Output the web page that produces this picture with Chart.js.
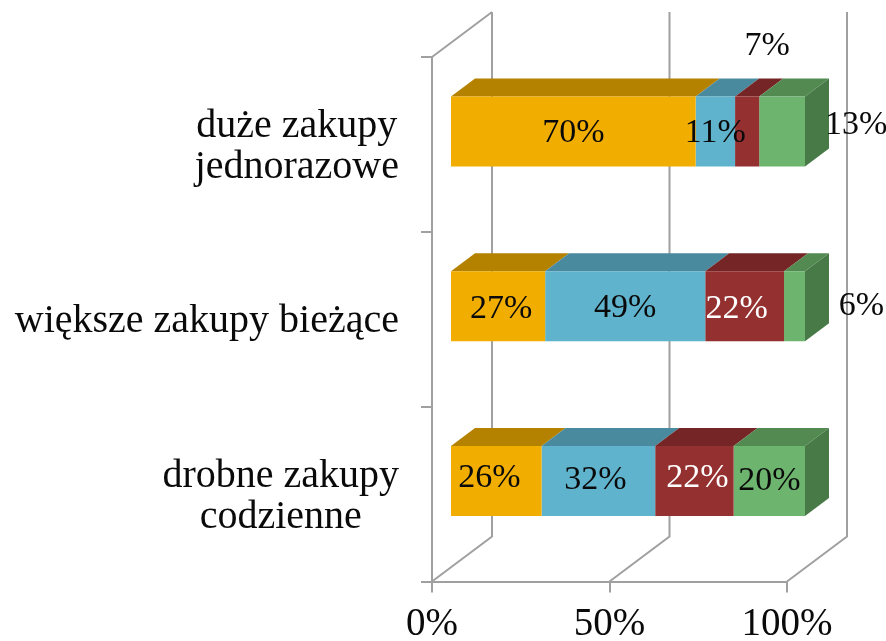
<!DOCTYPE html>
<html lang="pl">
<head>
<meta charset="utf-8">
<title>Zakupy</title>
<script src="https://cdn.jsdelivr.net/npm/chart.js@4"></script>
<style>
    html, body { margin: 0; background: #fff; }
    canvas { display: block; }
</style>
</head>
<body>
<canvas id="chart" width="886" height="641"></canvas>
<script>
const kategorie = [['duże zakupy', 'jednorazowe'], ['większe zakupy bieżące'], ['drobne zakupy', 'codzienne']];
const tickiX = [0, 50, 100];

// bar widths
const seria1 = [69.2, 26.8, 25.8];
const seria2 = [11.1, 45.1, 32.0];
const seria3 = [6.8, 22.2, 22.1];
const seria4 = [12.9, 5.9, 20.1];

// printed labels (they do not always agree with the bar widths)
const etykiety1 = ['70%', '27%', '26%'];
const etykiety2 = ['11%', '49%', '32%'];
const etykiety3 = ['7%', '22%', '22%'];
const etykiety4 = ['13%', '6%', '20%'];

const kolory = ['#F2AE00', '#5FB3CC', '#953030', '#6DB56E'];
const koloryGora = ['#B58200', '#4A8A9E', '#752525', '#528A52'];
const kolorBok = '#477A47';
const kolorOsi = '#A0A0A0';
const kolorTekstu = '#0a0a0a';
const czcionka = '"Liberation Serif", serif';
const rozmiarEtykiet = 34;
const rozmiarOsi = 39;
const rozmiarKategorii = 40;

// 3D look: shift of the bars off the front plane, bar depth, wall depth
const przesuniecie = { x: 18, y: -13 };
const glebokosc = { x: 24, y: -18 };
const sciana = { x: 60, y: -45 };

// label nudges, key "row:series"
const korekty = {
    '0:2': { x: 20, y: -85 },
    '0:3': { x: 74, y: -6 },
    '1:0': { x: 3, y: 3 },
    '1:2': { x: -8, y: 3 },
    '1:3': { x: 67, y: 0 },
    '2:0': { x: -7, y: -3 },
    '2:1': { x: -3, y: -1 },
    '2:2': { x: 3, y: -3 },
    '0:0': { x: 0, y: 2 },
    '0:1': { x: 0, y: 2 },
    '1:1': { x: 0, y: 2 }
};

function wielokat(ctx, pts, kolor) {
    ctx.fillStyle = kolor;
    ctx.beginPath();
    pts.forEach((p, i) => i ? ctx.lineTo(p[0], p[1]) : ctx.moveTo(p[0], p[1]));
    ctx.closePath();
    ctx.fill();
}

const wykres3d = {
    id: 'wykres3d',
    beforeDatasetsDraw(chart) {
        const { ctx, scales: { x }, chartArea: area } = chart;
        ctx.save();

        // back wall and floor lines
        ctx.strokeStyle = kolorOsi;
        ctx.lineWidth = 2;
        tickiX.forEach(t => {
            const px = x.getPixelForValue(t);
            ctx.beginPath();
            ctx.moveTo(px, area.bottom);
            ctx.lineTo(px + sciana.x, area.bottom + sciana.y);
            ctx.lineTo(px + sciana.x, area.top + sciana.y);
            ctx.stroke();
        });
        ctx.beginPath();
        ctx.moveTo(area.left, area.top);
        ctx.lineTo(area.left + sciana.x, area.top + sciana.y);
        ctx.stroke();

        // tops and the end side of the bars
        ctx.translate(przesuniecie.x, przesuniecie.y);
        chart.data.datasets.forEach((ds, s) => {
            chart.getDatasetMeta(s).data.forEach(bar => {
                const gora = bar.y - bar.height / 2;
                const dol = bar.y + bar.height / 2;
                wielokat(ctx, [
                    [bar.base, gora], [bar.x, gora],
                    [bar.x + glebokosc.x, gora + glebokosc.y], [bar.base + glebokosc.x, gora + glebokosc.y]
                ], koloryGora[s]);
                if (s === chart.data.datasets.length - 1) {
                    wielokat(ctx, [
                        [bar.x, gora], [bar.x + glebokosc.x, gora + glebokosc.y],
                        [bar.x + glebokosc.x, dol + glebokosc.y], [bar.x, dol]
                    ], kolorBok);
                }
            });
        });
        ctx.restore();

        // the library bars are drawn on the shifted plane
        ctx.save();
        ctx.translate(przesuniecie.x, przesuniecie.y);
    },
    afterDatasetsDraw(chart) {
        const { ctx, scales: { y } } = chart;
        ctx.restore();

        // value labels
        ctx.save();
        ctx.font = `${rozmiarEtykiet}px ${czcionka}`;
        ctx.textAlign = 'center';
        ctx.textBaseline = 'middle';
        chart.data.datasets.forEach((ds, s) => {
            chart.getDatasetMeta(s).data.forEach((bar, i) => {
                const k = korekty[`${i}:${s}`] || { x: 0, y: 0 };
                ctx.fillStyle = ds.kolorEtykiety[i];
                ctx.fillText(ds.etykiety[i], (bar.base + bar.x) / 2 + przesuniecie.x + k.x, bar.y + przesuniecie.y + k.y);
            });
        });

        // category labels: lines centred inside a right aligned block
        ctx.font = `${rozmiarKategorii}px ${czcionka}`;
        ctx.textBaseline = 'alphabetic';
        ctx.fillStyle = kolorTekstu;
        kategorie.forEach((linie, i) => {
            const szer = Math.max(...linie.map(l => ctx.measureText(l).width));
            const srodek = 399 - szer / 2;
            const yTick = y.getPixelForValue(i);
            linie.forEach((l, n) => {
                ctx.fillText(l, srodek, yTick + 13 + (n - (linie.length - 1) / 2) * 41);
            });
        });
        ctx.restore();
    }
};

const czarne = [kolorTekstu, kolorTekstu, kolorTekstu];

new Chart(document.getElementById('chart'), {
    type: 'bar',
    data: {
        labels: kategorie,
        datasets: [
            { label: 'seria 1', data: seria1, backgroundColor: kolory[0], etykiety: etykiety1, kolorEtykiety: czarne },
            { label: 'seria 2', data: seria2, backgroundColor: kolory[1], etykiety: etykiety2, kolorEtykiety: czarne },
            { label: 'seria 3', data: seria3, backgroundColor: kolory[2], etykiety: etykiety3, kolorEtykiety: [kolorTekstu, '#fff', '#fff'] },
            { label: 'seria 4', data: seria4, backgroundColor: kolory[3], etykiety: etykiety4, kolorEtykiety: czarne }
        ]
    },
    options: {
        indexAxis: 'y',
        responsive: false,
        animation: false,
        layout: { padding: { top: 57, right: 99, left: 0, bottom: 0 } },
        datasets: { bar: { barPercentage: 0.4, categoryPercentage: 1, borderWidth: 0, clip: false } },
        plugins: { legend: { display: false }, tooltip: { enabled: false } },
        scales: {
            x: {
                stacked: true,
                min: 0,
                max: 100,
                afterBuildTicks: scale => { scale.ticks = tickiX.map(v => ({ value: v })); },
                afterFit: scale => { scale.height = 59.5; },
                border: { color: kolorOsi, width: 2 },
                grid: { drawOnChartArea: false, color: kolorOsi, lineWidth: 2, tickLength: 11 },
                ticks: {
                    color: kolorTekstu,
                    padding: 9,
                    maxRotation: 0,
                    font: { family: czcionka, size: rozmiarOsi },
                    callback: v => v + '%'
                }
            },
            y: {
                stacked: true,
                afterFit: scale => { scale.width = 432; },
                border: { color: kolorOsi, width: 2 },
                grid: { drawOnChartArea: false, color: kolorOsi, lineWidth: 2, tickLength: 11 },
                ticks: { display: false }
            }
        }
    },
    plugins: [wykres3d]
});
</script>
</body>
</html>
